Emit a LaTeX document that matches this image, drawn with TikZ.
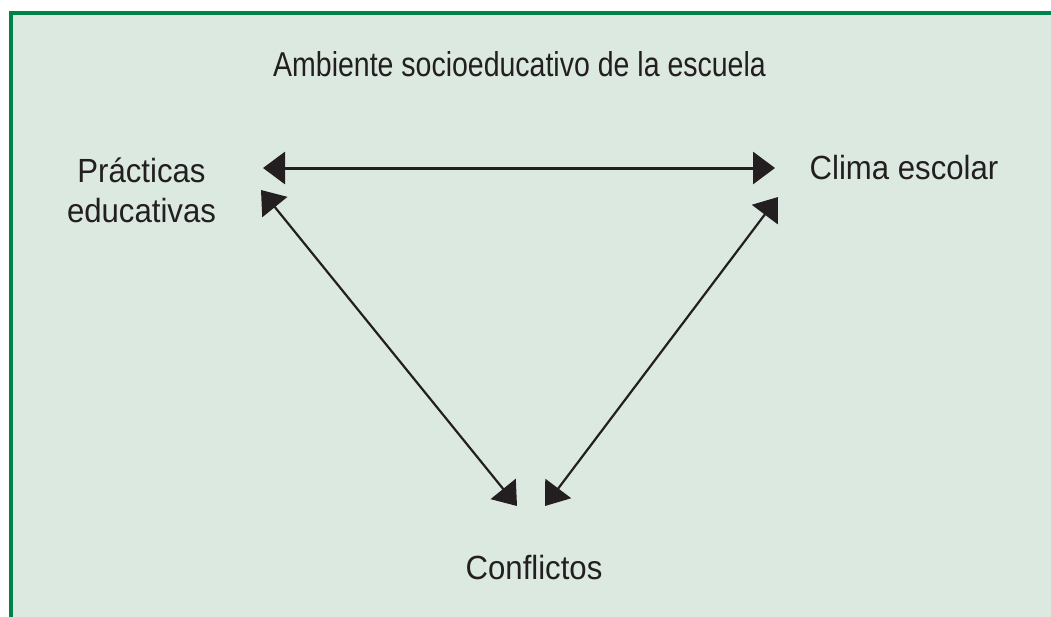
\documentclass[tikz,border=0pt]{standalone}
\usepackage{fontspec}
\setmainfont{Liberation Sans}[FakeStretch=0.93]
\newfontfamily\titlefont{Liberation Sans}[FakeStretch=0.826]
\usetikzlibrary{arrows.meta}
\definecolor{bgfill}{HTML}{DCE9E0}
\definecolor{frame}{HTML}{00834A}
\definecolor{ink}{HTML}{231F20}
\tikzset{
    lbl/.style={font=\fontsize{33.5}{40}\selectfont, text=ink, inner sep=0pt, anchor=base},
    dbl/.style={>={Triangle[length=22pt,width=32pt]}, <->, color=ink},
}

\begin{document}
\begin{tikzpicture}[x=1pt,y=-1pt]
    \useasboundingbox (0,0) rectangle (1051,616);
    \clip (0,0) rectangle (1051,616);
    \draw[frame, fill=bgfill, line width=4pt] (11,13) rectangle (1070,640);

    \node[lbl, font=\titlefont\fontsize{34.5}{40}\selectfont] (title) at (519.5,76) {Ambiente socioeducativo de la escuela};
    \node[lbl, align=center] (pract) at (141.5,222) {Prácticas\\educativas};
    \node[lbl] (clima) at (904,179) {Clima escolar};
    \node[lbl] (confl) at (534,579) {Conflictos};

    % arrow ends
    \coordinate (ph) at (263,168);
    \coordinate (pd) at (261,190);
    \coordinate (ch) at (775,168);
    \coordinate (cd) at (778,197);
    \coordinate (kp) at (517,506);
    \coordinate (kc) at (545,506);

    \draw[dbl, line width=3pt] (ph) -- (ch);
    \draw[dbl, line width=2.2pt] (pd) -- (kp);
    \draw[dbl, line width=2.2pt] (cd) -- (kc);
\end{tikzpicture}
\end{document}
